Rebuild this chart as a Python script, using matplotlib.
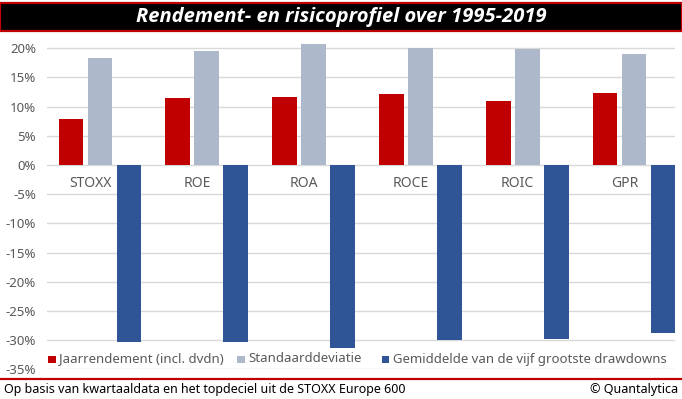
import matplotlib
matplotlib.use("Agg")
import matplotlib.pyplot as plt
from matplotlib.patches import Rectangle
from matplotlib.lines import Line2D
import numpy as np

categories = ["STOXX", "ROE", "ROA", "ROCE", "ROIC", "GPR"]
jaarrendement = [7.8, 11.4, 11.7, 12.1, 10.9, 12.3]
standaarddeviatie = [18.4, 19.6, 20.7, 20.0, 19.8, 19.0]
drawdowns = [-30.3, -30.4, -31.3, -29.9, -29.8, -28.7]
series_names = ["Jaarrendement (incl. dvdn)", "Standaarddeviatie",
                "Gemiddelde van de vijf grootste drawdowns"]
yticks = [20, 15, 10, 5, 0, -5, -10, -15, -20, -25, -30, -35]

RED = "#C00000"
GREY = "#ADB9CA"
BLUE = "#2F5597"
TXT = "#595959"
FONT = "Noto Sans"

W, H = 682, 399
fig = plt.figure(figsize=(W / 100, H / 100), dpi=100)
fig.patch.set_facecolor("white")

def fx(px):
    return px / W

def fy(py):
    return 1 - py / H

# axes placement
left, right = 47, 675
top, bottom = 36.6, 369.3
ax = fig.add_axes([fx(left), fy(bottom), fx(right - left), fy(top) - fy(bottom)])

x = np.arange(len(categories))
width = 0.232
step = 0.272
b1 = ax.bar(x - step, jaarrendement, width, color=RED, label=series_names[0], zorder=3)
b2 = ax.bar(x, standaarddeviatie, width, color=GREY, label=series_names[1], zorder=3)
b3 = ax.bar(x + step, drawdowns, width, color=BLUE, label=series_names[2], zorder=3)

ax.set_xlim(-0.496, 5.384)
ax.set_ylim(-35, 22)
ax.set_yticks(yticks)
ax.set_yticklabels([f"{v}%" for v in yticks], color=TXT, fontsize=9.5, family=FONT)
ax.yaxis.grid(True, color="#D9D9D9", linewidth=1.0, zorder=0)
ax.tick_params(axis="y", length=0, pad=8)
ax.set_xticks([])
for s in ax.spines.values():
    s.set_visible(False)

for i, c in enumerate(categories):
    ax.text(i - 0.09, -1.8, c, ha="center", va="top", color=TXT, fontsize=10,
            family=FONT, zorder=4)

# legend (manual placement of each entry)
leg_sq = [48, 237, 382]
leg_txt = [59, 248, 393]
leg_y = 359
for bars, sx, tx, name in zip([b1, b2, b3], leg_sq, leg_txt, series_names):
    fig.patches.append(Rectangle((fx(sx), fy(leg_y + 4)), fx(7.5), fy(leg_y - 3.5) - fy(leg_y + 4),
                                 transform=fig.transFigure,
                                 facecolor=bars.patches[0].get_facecolor(), edgecolor="none",
                                 zorder=5))
    fig.text(fx(tx), fy(leg_y), name, ha="left", va="center", color=TXT,
             fontsize=9.5, family=FONT, zorder=5)

# title bar
fig.patches.append(Rectangle((0, fy(31)), 1, fy(3.5) - fy(31), transform=fig.transFigure,
                             facecolor="black", edgecolor=RED, linewidth=1.6, zorder=5))
fig.text(0.5, fy(17), "Rendement- en risicoprofiel over 1995-2019", ha="center", va="center",
         color="white", fontsize=14.5, fontweight="bold", style="italic", family="Open Sans",
         zorder=6)

# footer
fig.add_artist(Line2D([0, 1], [fy(378.7), fy(378.7)], transform=fig.transFigure,
                      color=RED, linewidth=1.6))
fig.text(fx(4), fy(389), "Op basis van kwartaaldata en het topdeciel uit de STOXX Europe 600",
         ha="left", va="center", color="black", fontsize=9.0, family=FONT)
fig.text(fx(678), fy(389), "\u00a9 Quantalytica", ha="right", va="center",
         color="black", fontsize=9.0, family=FONT)

fig.savefig("out.png", dpi=100)
